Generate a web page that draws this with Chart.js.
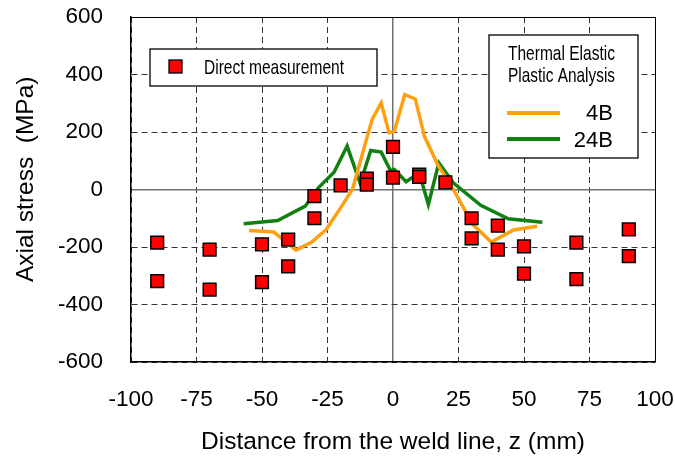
<!DOCTYPE html>
<html>
<head>
<meta charset="utf-8">
<script src="https://cdn.jsdelivr.net/npm/chart.js@4"></script>
<style>
  body { margin: 0; background: #fff; }
  #wrap { width: 675px; height: 461px; position: relative; }
</style>
</head>
<body>
<div id="wrap"><canvas id="stress-chart"></canvas></div>
<script>
// measured points (z in mm, axial stress in MPa)
const measZ = [-90, -90, -70, -70, -50, -50, -40, -40, -30, -30, -20, -10, -10, 0, 0,
  10, 10, 20, 30, 30, 40, 40, 50, 50, 70, 70, 90, 90];
const measStress = [-185, -319, -209, -348, -191, -322, -174, -267, -23, -100, 14, 38, 17, 148, 41,
  52, 44, 25, -100, -170, -126, -209, -198, -293, -185, -312, -139, -232];

// thermal elastic plastic analysis, 4B
const z4B = [-55, -45.5, -37, -31, -25.5, -20, -15.5, -8, -4.5, -1.5, 0.5, 4.5, 8.5, 12, 17, 22, 30.5, 37.5, 46, 55];
const s4B = [-143, -148, -211, -183, -139, -64, 0, 243, 301, 197, 203, 330, 315, 185, 87, 17, -122, -183, -141, -128];

// thermal elastic plastic analysis, 24B
const z24B = [-57, -44, -33.5, -28.5, -22.5, -17.5, -12.5, -8.5, -4.5, -1, 0.5, 5, 10, 13.5, 17.5, 23, 33.5, 44, 57];
const s24B = [-119, -108, -58, 6, 60, 151, 21, 136, 130, 66, 70, 27, 58, -52, 93, 23, -55, -102, -114];

const xTicks = [-100, -75, -50, -25, 0, 25, 50, 75, 100];
const yTicks = [-600, -400, -200, 0, 200, 400, 600];

const toPts = (xs, ys) => xs.map((x, i) => ({x: x, y: ys[i]}));

const FONT = 'Liberation Sans, Arial, sans-serif';
const ORANGE = '#ffa010';
const GREEN = '#108010';

// dashed grid, gray zero line, solid frame on the far edges
const gridColor = (edge) => (c) => {
  if (!c.tick) return '#000';
  if (c.tick.value === 0) return '#707070';
  if (c.tick.value === edge) return '#000';
  return '#333';
};
const gridDash = (edge) => (c) => {
  if (!c.tick) return [];
  return (c.tick.value === 0 || c.tick.value === edge) ? [] : [6, 4];
};
const gridWidth = (c) => (c.tick && c.tick.value === 0) ? 1.5 : 1;

const legendBoxes = {
  id: 'legendBoxes',
  afterDatasetsDraw(chart) {
    const ctx = chart.ctx;
    ctx.save();
    // direct measurement box
    ctx.fillStyle = '#fff';
    ctx.strokeStyle = '#000';
    ctx.lineWidth = 1.3;
    ctx.fillRect(150, 49, 227, 37);
    ctx.strokeRect(150, 49, 227, 37);
    ctx.fillStyle = '#ff0000';
    ctx.fillRect(169, 60, 13, 13);
    ctx.strokeRect(169, 60, 13, 13);
    ctx.fillStyle = '#000';
    ctx.font = '21px ' + FONT;
    ctx.textBaseline = 'alphabetic';
    ctx.textAlign = 'left';
    ctx.fillText('Direct measurement', 204, 74, 140);

    // analysis box
    ctx.fillStyle = '#fff';
    ctx.fillRect(489, 35, 149, 123);
    ctx.strokeRect(489, 35, 149, 123);
    ctx.fillStyle = '#000';
    ctx.font = '21px ' + FONT;
    ctx.fillText('Thermal Elastic', 508, 60, 107);
    ctx.fillText('Plastic Analysis', 508, 82, 107);
    ctx.font = '22px ' + FONT;
    ctx.textAlign = 'right';
    ctx.fillText('4B', 613, 120);
    ctx.fillText('24B', 613, 147);
    ctx.lineWidth = 4;
    ctx.strokeStyle = ORANGE;
    ctx.beginPath(); ctx.moveTo(507, 113); ctx.lineTo(560, 113); ctx.stroke();
    ctx.strokeStyle = GREEN;
    ctx.beginPath(); ctx.moveTo(507, 139); ctx.lineTo(560, 139); ctx.stroke();
    ctx.restore();
  }
};

new Chart(document.getElementById('stress-chart'), {
  type: 'scatter',
  data: {
    datasets: [
      {
        label: 'Direct measurement',
        data: toPts(measZ, measStress),
        pointStyle: 'rect',
        pointRadius: 9,
        pointBackgroundColor: '#ff0000',
        pointBorderColor: '#000',
        pointBorderWidth: 1.5,
        showLine: false
      },
      {
        label: '4B',
        data: toPts(z4B, s4B),
        showLine: true,
        borderColor: ORANGE,
        borderWidth: 3.5,
        pointRadius: 0,
        tension: 0
      },
      {
        label: '24B',
        data: toPts(z24B, s24B),
        showLine: true,
        borderColor: GREEN,
        borderWidth: 3.5,
        pointRadius: 0,
        tension: 0
      }
    ]
  },
  options: {
    responsive: true,
    maintainAspectRatio: false,
    animation: false,
    events: [],
    layout: {padding: {left: 0, right: 20, top: 17, bottom: 0}},
    plugins: {legend: {display: false}, tooltip: {enabled: false}},
    scales: {
      x: {
        type: 'linear',
        min: -100,
        max: 100,
        afterBuildTicks: (s) => { s.ticks = xTicks.map(v => ({value: v})); },
        afterFit: (s) => { s.height = 99; s.paddingLeft = 0; s.paddingRight = 0; },
        ticks: {color: '#000', font: {family: FONT, size: 22.5}, padding: 24, maxRotation: 0},
        grid: {drawTicks: false, color: gridColor(100), lineWidth: gridWidth},
        border: {color: '#000', width: 1.5, dash: gridDash(100)},
        title: {display: true, text: 'Distance from the weld line, z (mm)', color: '#000',
          font: {family: FONT, size: 24.5}, padding: {top: 0, bottom: 4}}
      },
      y: {
        type: 'linear',
        min: -600,
        max: 600,
        afterBuildTicks: (s) => { s.ticks = yTicks.map(v => ({value: v})); },
        afterFit: (s) => { s.width = 131; s.paddingTop = 0; s.paddingBottom = 0; },
        ticks: {color: '#000', font: {family: FONT, size: 22.5}, padding: 28},
        grid: {drawTicks: false, color: gridColor(600), lineWidth: gridWidth},
        border: {color: '#000', width: 1.5, dash: gridDash(600)},
        title: {display: true, text: '   Axial stress  (MPa)', color: '#000',
          font: {family: FONT, size: 24.5}, padding: {top: 12, bottom: 0}}
      }
    }
  },
  plugins: [legendBoxes]
});
</script>
</body>
</html>
